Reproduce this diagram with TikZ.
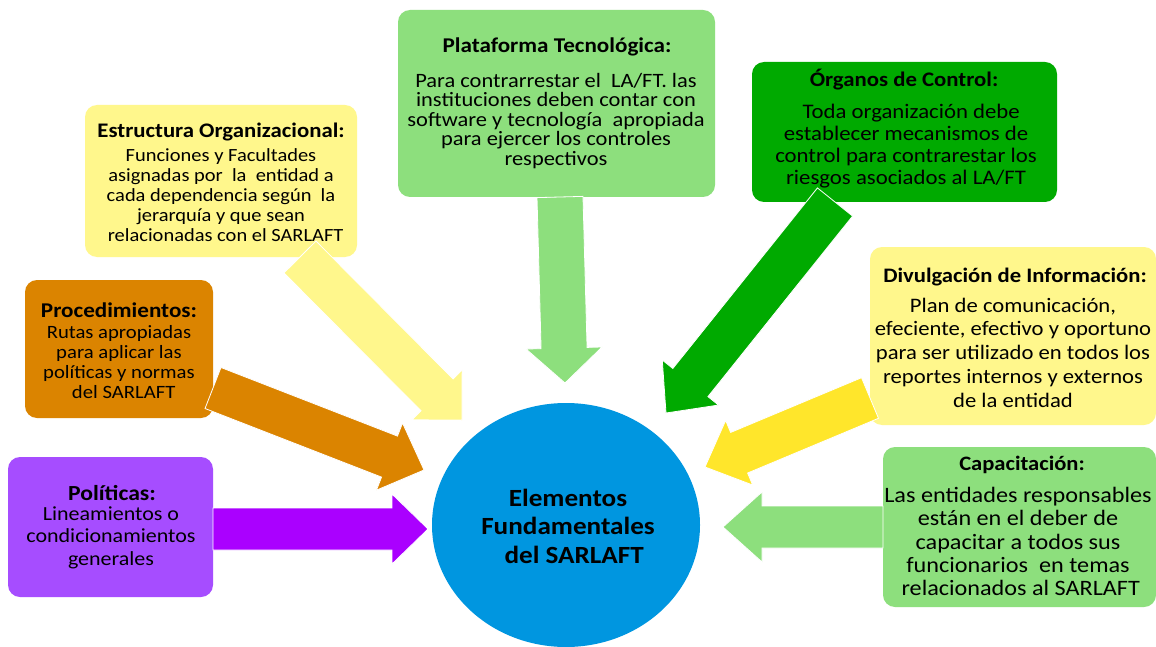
\documentclass[tikz,border=0pt]{standalone}
\usepackage{fontspec}
\setmainfont[FakeStretch=1.1]{Carlito}
\usetikzlibrary{calc,shapes.geometric}
\definecolor{lyellow}{HTML}{FFF78C}
\definecolor{lgreen}{HTML}{8DDF7D}
\definecolor{dgreen}{HTML}{00AA00}
\definecolor{orng}{HTML}{DB8400}
\definecolor{byellow}{HTML}{FFE62B}
\definecolor{lpurple}{HTML}{A64DFF}
\definecolor{dpurple}{HTML}{AA00FF}
\definecolor{cblue}{HTML}{0096E0}
\newcommand\fs[2]{\fontsize{#1}{#2}\selectfont}
% #1 colour, #2 from, #3 to, #4 half shaft, #5 half head, #6 head length
\newcommand\blockarrow[6]{%
  \path ($(#3)!#6!(#2)$) coordinate (hb);
  \filldraw[fill=#1, draw=white, line width=0.8pt, line join=miter]
    ($(#2)!#4!90:(#3)$) -- ($(hb)!#4!90:(#3)$) -- ($(hb)!#5!90:(#3)$) -- (#3)
    -- ($(hb)!#5!-90:(#3)$) -- ($(hb)!#4!-90:(#3)$) -- ($(#2)!#4!-90:(#3)$) -- cycle;}
\tikzset{
  box/.style={rectangle, rounded corners=12pt, inner sep=0pt, draw=none},
  ttl/.style={inner sep=0pt, align=center},
  body/.style={inner sep=0pt, align=center},
}
\begin{document}
\begin{tikzpicture}[x=1pt,y=-1pt]
\useasboundingbox (0,0) rectangle (1156,647);
\fill[white] (0,0) rectangle (1156,647);

% boxes
\node[box, fill=lyellow, minimum width=272pt, minimum height=152pt] (est) at (221,181) {};
\node[box, fill=lgreen, minimum width=317pt, minimum height=187pt] (pla) at (556.5,103.5) {};
\node[box, fill=dgreen, minimum width=305pt, minimum height=140pt] (org) at (904.5,132) {};
\node[box, fill=orng, minimum width=188pt, minimum height=138pt] (pro) at (119,349) {};
\node[box, fill=lyellow, minimum width=286pt, minimum height=178pt] (div) at (1013,336) {};
\node[box, fill=lpurple, minimum width=205pt, minimum height=140pt] (pol) at (110.5,527) {};
\node[box, fill=lgreen, minimum width=273pt, minimum height=160pt] (cap) at (1019.5,527) {};
\node[ellipse, fill=cblue, inner sep=0pt, minimum width=268pt, minimum height=244pt] (cen) at (566,525) {};

% arrow end points
\coordinate (estS) at (300,257);  \coordinate (estE) at (462,420);
\coordinate (plaS) at (560,197);  \coordinate (plaE) at (565,383);
\coordinate (orgS) at (835,202);  \coordinate (orgE) at (666,413);
\coordinate (proS) at (213,388);  \coordinate (proE) at (424,470);
\coordinate (polS) at (213,529);  \coordinate (polE) at (428,529);
\coordinate (divS) at (870,398);  \coordinate (divE) at (705,467);
\coordinate (capS) at (883,527);  \coordinate (capE) at (723,527);

\blockarrow{lyellow}{estS}{estE}{22.6pt}{35.4pt}{35.4pt}
\blockarrow{lgreen}{plaS}{plaE}{23pt}{38pt}{35pt}
\blockarrow{dgreen}{orgS}{orgE}{22.5pt}{36pt}{39pt}
\blockarrow{orng}{proS}{proE}{22pt}{36pt}{37pt}
\blockarrow{dpurple}{polS}{polE}{21pt}{35pt}{36pt}
\blockarrow{byellow}{divS}{divE}{22pt}{35pt}{37pt}
\blockarrow{lgreen}{capS}{capE}{21pt}{35pt}{39pt}

% texts
\node[ttl, font=\fs{20.7}{20}\bfseries] (estT) at (221,132) {Estructura Organizacional:};
\node[body, font=\fs{18.6}{20}] (estB) at (221,195) {Funciones y Facultades\\asignadas por\ \ la\ \ entidad a\\cada dependencia según\ \ la\\jerarquía y que sean\\\ \ relacionadas con el SARLAFT};

\node[ttl, font=\fs{21}{20}\bfseries] (plaT) at (557,47) {Plataforma Tecnológica:};
\node[body, font=\fs{20.4}{19.5}] (plaB) at (556,121) {Para contrarrestar el\ \ LA/FT. las\\instituciones deben contar con\\software y tecnología\ \ apropiada\\para ejercer los controles\\respectivos};

\node[ttl, font=\fs{20.7}{22}\bfseries] (orgT) at (904,80) {Órganos de Control:};
\node[body, font=\fs{20.7}{22}] (orgB) at (906,146.5) {\ \ Toda organización debe\\establecer mecanismos de\ \\control para contrarestar los\\riesgos asociados al LA/FT};

\node[ttl, font=\fs{21}{20}\bfseries] (proT) at (119,310) {Procedimientos:};
\node[body, font=\fs{18.8}{20}] (proB) at (119,362) {Rutas apropiadas\\para aplicar las\ \ \\políticas y normas\\\ \ del SARLAFT};

\node[ttl, font=\fs{20.6}{24}\bfseries] (divT) at (1015,277) {Divulgación de Información:};
\node[body, font=\fs{20.6}{23.75}] (divB) at (1013,352.5) {Plan de comunicación,\\efeciente, efectivo y oportuno\\para ser utilizado en todos los\\reportes internos y externos\\de la entidad};

\node[ttl, font=\fs{21.5}{22.5}\bfseries] (polT) at (112,493) {Políticas:};
\node[body, font=\fs{20}{22.5}] (polB) at (111,537.5) {Lineamientos o\\condicionamientos\\generales};

\node[ttl, font=\fs{20.5}{23}\bfseries] (capT) at (1022,465) {Capacitación:};
\node[body, font=\fs{22}{23.25}] (capB) at (1018,541.5) {Las entidades responsables\\están en el deber de\\capacitar a todos sus\\funcionarios\ \ en temas\\\ relacionados al SARLAFT};

\node[body, font=\fs{24.7}{28.5}\bfseries] (cenT) at (568,526) {Elementos\\Fundamentales\\\ \ del SARLAFT};
\end{tikzpicture}
\end{document}
